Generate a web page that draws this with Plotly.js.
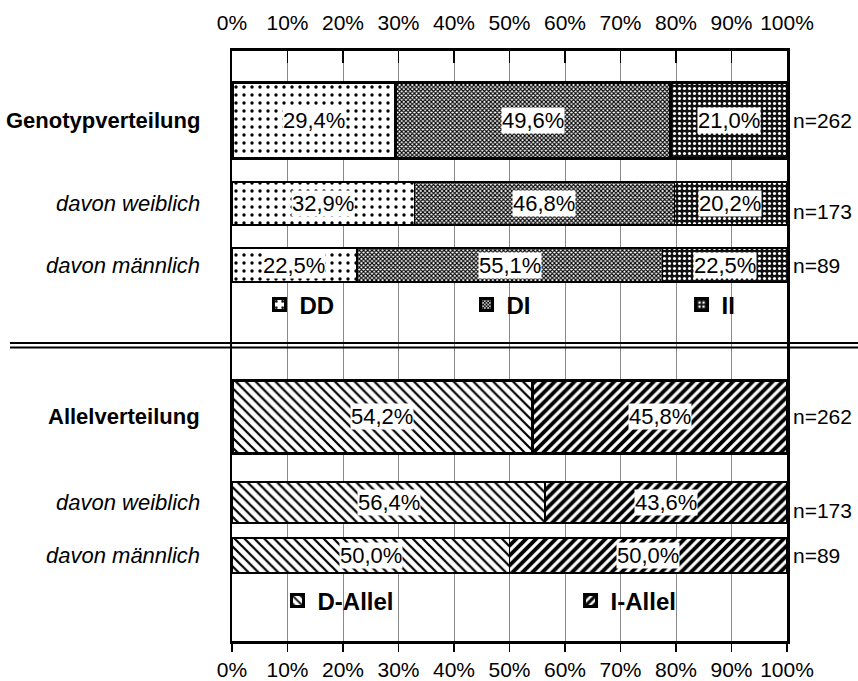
<!DOCTYPE html>
<html>
<head>
<meta charset="utf-8">
<script src="https://cdn.plot.ly/plotly-3.0.1.min.js"></script>
<style>html,body{margin:0;padding:0;background:#fff}#chart{width:858px;height:681px}</style>
</head>
<body>
<div id="chart"></div>
<script>
// ---------- data ----------
const rowLabels = ["Genotypverteilung", "davon weiblich", "davon männlich"];
const alleleRowLabels = ["Allelverteilung", "davon weiblich", "davon männlich"];
const nLabels = ["n=262", "n=173", "n=89"];
const genoNames = ["DD", "DI", "II"];
const genoDD = [29.4, 32.9, 22.5];
const genoDI = [49.6, 46.8, 55.1];
const genoII = [21.0, 20.2, 22.5];
const alleleNames = ["D-Allel", "I-Allel"];
const alleleD = [54.2, 56.4, 50.0];
const alleleI = [45.8, 43.6, 50.0];
const tickVals = [0, 10, 20, 30, 40, 50, 60, 70, 80, 90, 100];
const tickText = ["0%", "10%", "20%", "30%", "40%", "50%", "60%", "70%", "80%", "90%", "100%"];

// ---------- layout constants (row placement on a vertical pixel-like axis) ----------
const genoRowY = [69, 152.5, 214];
const genoRowW = [76, 43, 34];
const alleleRowY = [365.5, 451.5, 504.5];
const alleleRowW = [73, 41, 35];
const mainLine = [3, 1.5, 1.5];
// legend item anchor positions (paper x) and rows (paper y)
const genoLegendX = [0.0495, 0.4225, 0.81];
const alleleLegendX = [0.082, 0.61];
const genoLegendY = (641 - 305) / 590;
const alleleLegendY = (641 - 601) / 590;

const FONT = "Liberation Sans, Arial, sans-serif";
const fmt = v => v.toFixed(1).replace(".", ",") + "%";

const patterns = {
  DD: {shape: ".", fgcolor: "#000", bgcolor: "#fff", size: 8, solidity: 0.14, fillmode: "replace"},
  DI: {shape: "x", fgcolor: "#000", bgcolor: "#fff", size: 3, solidity: 0.6, fillmode: "replace"},
  II: {shape: ".", fgcolor: "#fff", bgcolor: "#111", size: 5, solidity: 0.3, fillmode: "replace"},
  "D-Allel": {shape: "\\", fgcolor: "#000", bgcolor: "#fff", size: 7, solidity: 0.32, fillmode: "replace"},
  "I-Allel": {shape: "/", fgcolor: "#000", bgcolor: "#fff", size: 7, solidity: 0.55, fillmode: "replace"}
};

const genoSeries = [genoDD, genoDI, genoII];
const alleleSeries = [alleleD, alleleI];

const traces = [];
const legendIds = [];
genoSeries.forEach((vals, i) => {
  const lid = i === 0 ? "legend" : "legend" + (i + 1);
  legendIds.push({id: lid, x: genoLegendX[i], y: genoLegendY});
  traces.push({
    type: "bar", orientation: "h", name: genoNames[i],
    x: vals, y: genoRowY, width: genoRowW,
    marker: {color: "#fff", pattern: patterns[genoNames[i]], line: {color: "#000", width: mainLine}},
    legend: lid, hoverinfo: "skip", xaxis: "x", yaxis: "y"
  });
});
alleleSeries.forEach((vals, i) => {
  const lid = "legend" + (i + 4);
  legendIds.push({id: lid, x: alleleLegendX[i], y: alleleLegendY});
  traces.push({
    type: "bar", orientation: "h", name: alleleNames[i],
    x: vals, y: alleleRowY, width: alleleRowW,
    marker: {color: "#fff", pattern: patterns[alleleNames[i]], line: {color: "#000", width: mainLine}},
    legend: lid, hoverinfo: "skip", xaxis: "x2", yaxis: "y"
  });
});

const annotations = [];
function addSegmentLabels(series, rowY, xref) {
  rowY.forEach((y, r) => {
    let base = 0;
    series.forEach(vals => {
      const v = vals[r];
      annotations.push({
        x: base + v / 2, y: y, xref: xref, yref: "y", text: fmt(v), showarrow: false,
        bgcolor: "#fff", borderpad: 0, font: {family: FONT, size: 22, color: "#000"}
      });
      base += v;
    });
  });
}
addSegmentLabels(genoSeries, genoRowY, "x");
addSegmentLabels(alleleSeries, alleleRowY, "x2");

function addRowLabels(labels, rowY) {
  labels.forEach((t, r) => {
    annotations.push({
      x: -0.054, xref: "paper", y: rowY[r], yref: "y", xanchor: "right", showarrow: false,
      text: r === 0 ? "<b>" + t + "</b>" : "<i>" + t + "</i>",
      font: {family: FONT, size: 22, color: "#000"}
    });
    annotations.push({
      x: 100, xref: "x", y: rowY[r], yref: "y", xanchor: "left", xshift: 4,
      yshift: r === 1 ? -8 : 0, showarrow: false, text: nLabels[r],
      font: {family: FONT, size: 21, color: "#000"}
    });
  });
}
addRowLabels(rowLabels, genoRowY);
addRowLabels(alleleRowLabels, alleleRowY);

const shapes = [292, 296.5].map(y => ({
  type: "line", xref: "paper", yref: "y", x0: -0.4, x1: 1.13, y0: y, y1: y,
  line: {color: "#000", width: 2}
}));

const legendCommon = {
  orientation: "h", bgcolor: "rgba(0,0,0,0)", borderwidth: 0, xanchor: "left", yanchor: "middle",
  font: {family: FONT, size: 24, color: "#000", weight: "bold"}, traceorder: "normal",
  itemclick: false, itemdoubleclick: false
};

const layout = {
  width: 858, height: 681,
  margin: {l: 232, r: 71, t: 51, b: 40},
  paper_bgcolor: "#fff", plot_bgcolor: "#fff",
  barmode: "stack",
  showlegend: true,
  font: {family: FONT, size: 20, color: "#000"},
  xaxis: {
    side: "top", anchor: "y", range: [0, 100], tickmode: "array", tickvals: tickVals, ticktext: tickText,
    ticks: "inside", ticklen: 12, tickwidth: 1.5, tickcolor: "#000", ticklabelstandoff: 10,
    showgrid: true, gridcolor: "#8a8a8a", gridwidth: 1,
    showline: true, linecolor: "#000", linewidth: 3, zeroline: false, fixedrange: true,
    tickfont: {family: FONT, size: 21, color: "#000"}
  },
  xaxis2: {
    side: "bottom", overlaying: "x", anchor: "y", range: [0, 100], tickmode: "array", tickvals: tickVals, ticktext: tickText,
    ticks: "outside", ticklen: 8, tickwidth: 1.5, tickcolor: "#000",
    showgrid: false, showline: true, linecolor: "#000", linewidth: 2.5, zeroline: false, fixedrange: true,
    tickfont: {family: FONT, size: 21, color: "#000"}
  },
  yaxis: {
    range: [590, 0], showticklabels: false, ticks: "", showgrid: false, zeroline: false,
    showline: true, mirror: true, linecolor: "#000", linewidth: 2.5, fixedrange: true
  },
  annotations: annotations,
  shapes: shapes
};
legendIds.forEach(l => {
  layout[l.id] = Object.assign({}, legendCommon, {x: l.x, y: l.y});
});

Plotly.newPlot("chart", traces, layout, {staticPlot: true, displayModeBar: false});
</script>
</body>
</html>
